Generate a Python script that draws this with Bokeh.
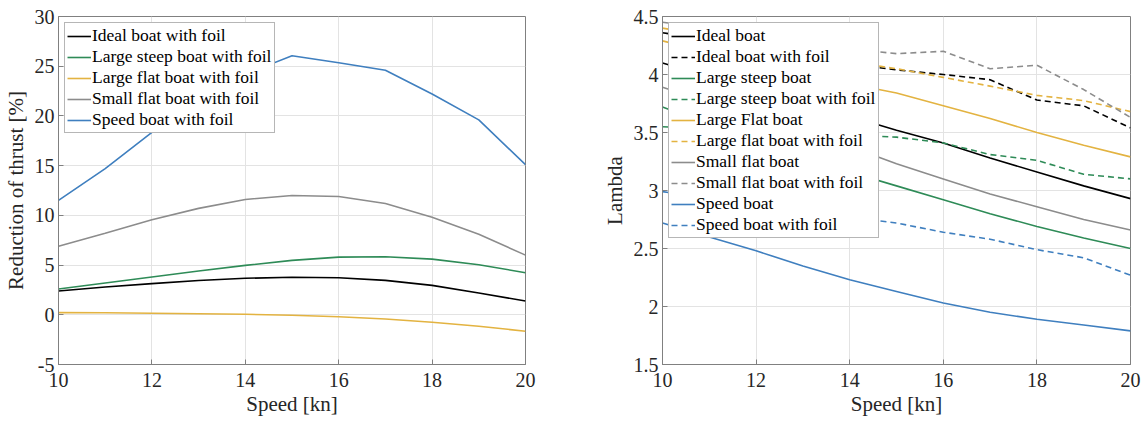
from bokeh.plotting import figure
from bokeh.layouts import row
from bokeh.models import Range1d, FixedTicker, CustomJSTickFormatter, Legend, LegendItem
from bokeh.embed import file_html
from bokeh.resources import INLINE

speed = [10, 11, 12, 13, 14, 15, 16, 17, 18, 19, 20]

# Left: reduction of thrust [%]
red_ideal = [2.4, 2.8, 3.13, 3.45, 3.67, 3.77, 3.73, 3.46, 2.96, 2.19, 1.39]
red_steep = [2.6, 3.2, 3.8, 4.4, 4.97, 5.47, 5.8, 5.84, 5.6, 5.04, 4.23]
red_flat = [0.22, 0.2, 0.15, 0.1, 0.05, -0.05, -0.2, -0.42, -0.75, -1.15, -1.65]
red_small = [6.9, 8.2, 9.55, 10.7, 11.6, 12.0, 11.9, 11.2, 9.8, 8.1, 6.0]
red_speed = [11.5, 14.7, 18.35, 21.5, 24.2, 26.05, 25.35, 24.6, 22.2, 19.6, 15.1]

# Right: lambda
lam_ideal = [4.10, 3.98, 3.87, 3.76, 3.64, 3.52, 3.41, 3.28, 3.16, 3.04, 2.93]
lam_ideal_f = [4.36, 4.30, 4.23, 4.15, 4.09, 4.04, 4.00, 3.955, 3.78, 3.73, 3.54]
lam_steep = [3.72, 3.57, 3.43, 3.29, 3.16, 3.04, 2.92, 2.80, 2.69, 2.59, 2.50]
lam_steep_f = [3.55, 3.53, 3.51, 3.50, 3.48, 3.46, 3.41, 3.31, 3.26, 3.14, 3.10]
lam_flat = [4.29, 4.19, 4.10, 4.01, 3.92, 3.84, 3.73, 3.62, 3.50, 3.39, 3.29]
lam_flat_f = [4.40, 4.33, 4.26, 4.18, 4.11, 4.05, 3.975, 3.90, 3.82, 3.775, 3.68]
lam_small = [3.89, 3.76, 3.63, 3.51, 3.38, 3.23, 3.10, 2.97, 2.86, 2.75, 2.66]
lam_small_f = [4.45, 4.40, 4.33, 4.27, 4.22, 4.18, 4.20, 4.05, 4.08, 3.87, 3.63]
lam_speed = [2.72, 2.60, 2.48, 2.35, 2.23, 2.13, 2.03, 1.95, 1.89, 1.84, 1.79]
lam_speed_f = [2.99, 2.93, 2.87, 2.81, 2.77, 2.72, 2.64, 2.58, 2.49, 2.42, 2.27]

x_ticks = [10, 12, 14, 16, 18, 20]
left_ticks = [-5, 0, 5, 10, 15, 20, 25, 30]
right_ticks = [1.5, 2, 2.5, 3, 3.5, 4, 4.5]

BLACK = "#000000"
GREEN = "#2e8b57"
YELLOW = "#e3b341"
GRAY = "#8c8c8c"
BLUE = "#3f7fbf"

FONT = "Liberation Serif"


def style(p, xt, yt):
    p.xaxis.ticker = FixedTicker(ticks=xt)
    p.yaxis.ticker = FixedTicker(ticks=yt)
    p.xaxis.formatter = CustomJSTickFormatter(code="return tick.toString();")
    p.yaxis.formatter = CustomJSTickFormatter(code="return tick.toString();")
    for ax in (p.xaxis[0], p.yaxis[0]):
        ax.major_label_text_font = FONT
        ax.major_label_text_font_size = "20px"
        ax.major_label_text_color = "#262626"
        ax.axis_label_text_font = FONT
        ax.axis_label_text_font_size = "21px"
        ax.axis_label_text_font_style = "normal"
        ax.axis_label_text_color = "#262626"
        ax.axis_line_color = "#808080"
        ax.major_tick_line_color = "#808080"
        ax.major_tick_in = 5
        ax.major_tick_out = 0
        ax.minor_tick_line_color = None
    p.xaxis.major_label_standoff = 8
    p.xaxis.axis_label_standoff = 2
    p.yaxis.major_label_standoff = 4
    p.yaxis.axis_label_standoff = 4
    p.xgrid.grid_line_color = "#e3e3e3"
    p.ygrid.grid_line_color = "#e3e3e3"
    p.outline_line_color = "#808080"
    p.outline_line_alpha = 1.0


def legend(p, items):
    lg = Legend(items=items, location="top_left")
    lg.label_text_font = FONT
    lg.label_text_font_size = "17.5px"
    lg.label_text_color = "#000000"
    lg.label_height = 20
    lg.glyph_height = 20
    lg.glyph_width = 24
    lg.spacing = 0
    lg.padding = 2
    lg.label_standoff = 1
    lg.margin = 6
    lg.border_line_color = "#6e6e6e"
    lg.border_line_width = 1
    lg.background_fill_alpha = 1.0
    p.add_layout(lg, "center")


p1 = figure(width=590, height=421, output_backend="svg", toolbar_location=None,
            x_range=Range1d(10, 20), y_range=Range1d(-5, 30),
            min_border_left=57, min_border_right=65, min_border_top=16, min_border_bottom=57,
            x_axis_label="Speed [kn]", y_axis_label="Reduction of thrust [%]")
style(p1, x_ticks, left_ticks)
items1 = []
for ys, c, lab in [(red_ideal, BLACK, "Ideal boat with foil"),
                   (red_steep, GREEN, "Large steep boat with foil"),
                   (red_flat, YELLOW, "Large flat boat with foil"),
                   (red_small, GRAY, "Small flat boat with foil"),
                   (red_speed, BLUE, "Speed boat with foil")]:
    r = p1.line(speed, ys, line_color=c, line_width=1.6)
    items1.append(LegendItem(label=lab, renderers=[r]))
legend(p1, items1)

p2 = figure(width=554, height=421, output_backend="svg", toolbar_location=None,
            x_range=Range1d(10, 20), y_range=Range1d(1.5, 4.5),
            min_border_left=72, min_border_right=14, min_border_top=16, min_border_bottom=57,
            x_axis_label="Speed [kn]", y_axis_label="Lambda")
style(p2, x_ticks, right_ticks)
items2 = []
for ys, c, dash, lab in [(lam_ideal, BLACK, "solid", "Ideal boat"),
                         (lam_ideal_f, BLACK, "6 4", "Ideal boat with foil"),
                         (lam_steep, GREEN, "solid", "Large steep boat"),
                         (lam_steep_f, GREEN, "6 4", "Large steep boat with foil"),
                         (lam_flat, YELLOW, "solid", "Large Flat boat"),
                         (lam_flat_f, YELLOW, "6 4", "Large flat boat with foil"),
                         (lam_small, GRAY, "solid", "Small flat boat"),
                         (lam_small_f, GRAY, "6 4", "Small flat boat with foil"),
                         (lam_speed, BLUE, "solid", "Speed boat"),
                         (lam_speed_f, BLUE, "6 4", "Speed boat with foil")]:
    r = p2.line(speed, ys, line_color=c, line_width=1.6, line_dash=dash)
    items2.append(LegendItem(label=lab, renderers=[r]))
legend(p2, items2)

layout = row(p1, p2, spacing=0)
open("out.html", "w").write(file_html(layout, INLINE))
